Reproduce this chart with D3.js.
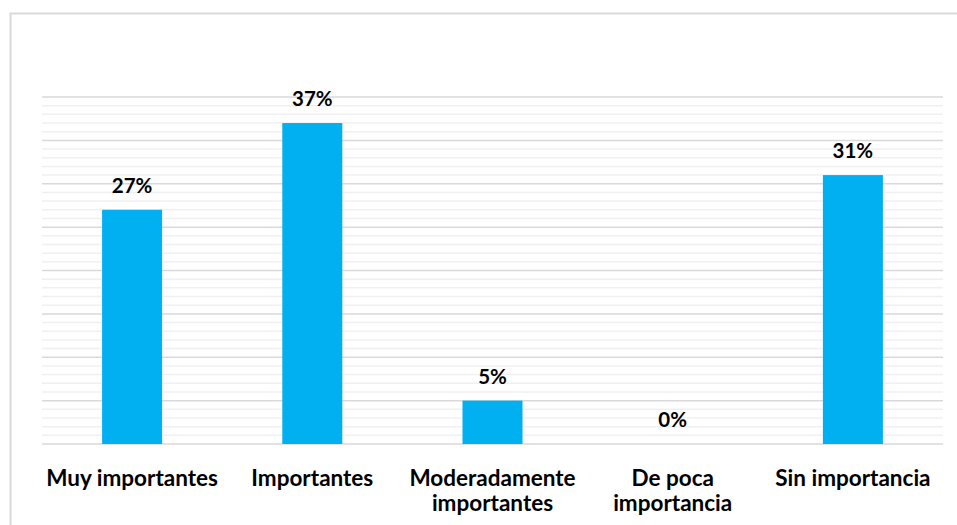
<!DOCTYPE html>
<html>
<head>
<meta charset="utf-8">
<script src="https://cdn.jsdelivr.net/npm/d3@7"></script>
<style>
  body { margin: 0; background: #fff; }
  text { font-family: Lato, "Open Sans", sans-serif; font-weight: bold; fill: #000; }
</style>
</head>
<body>
<div id="chart"></div>
<script>
// data
const categories = [
    ["Muy importantes"],
    ["Importantes"],
    ["Moderadamente", "importantes"],
    ["De poca", "importancia"],
    ["Sin importancia"]
];
const values = [27, 37, 5, 0, 31];
const yMax = 40;

const width = 957, height = 525;
const margin = { top: 97, right: 14, bottom: 81, left: 42 };
const w = width - margin.left - margin.right;
const h = height - margin.top - margin.bottom;

const svg = d3.select("#chart").append("svg")
    .attr("width", width)
    .attr("height", height);

// chart frame
svg.append("rect")
    .attr("x", 10.5).attr("y", 13.5)
    .attr("width", 960).attr("height", 520)
    .attr("fill", "none")
    .attr("stroke", "#d9d9d9")
    .attr("stroke-width", 2);

const g = svg.append("g")
    .attr("transform", "translate(" + margin.left + "," + margin.top + ")");

const x = d3.scaleBand()
    .domain(d3.range(categories.length))
    .range([0, w])
    .paddingInner(0)
    .paddingOuter(0);

const y = d3.scaleLinear()
    .domain([0, yMax])
    .range([h, 0]);

// minor gridlines every 1%
g.append("g")
    .selectAll("line")
    .data(d3.range(0, yMax + 1, 1).filter(d => d % 5 !== 0))
    .enter().append("line")
    .attr("x1", 0).attr("x2", w)
    .attr("y1", d => y(d)).attr("y2", d => y(d))
    .attr("stroke", "#f0f0f0")
    .attr("stroke-width", 1.5);

// major gridlines every 5%
g.append("g")
    .selectAll("line")
    .data(d3.range(0, yMax + 1, 5))
    .enter().append("line")
    .attr("x1", 0).attr("x2", w)
    .attr("y1", d => y(d)).attr("y2", d => y(d))
    .attr("stroke", "#d9d9d9")
    .attr("stroke-width", 1.5);

const barW = 60;

g.selectAll(".bar")
    .data(values)
    .enter().append("rect")
    .attr("class", "bar")
    .attr("x", (d, i) => x(i) + x.bandwidth() / 2 - barW / 2)
    .attr("y", d => y(d))
    .attr("width", barW)
    .attr("height", d => h - y(d))
    .attr("fill", "#00b0f0");

// value labels
g.selectAll(".val")
    .data(values)
    .enter().append("text")
    .attr("class", "val")
    .attr("x", (d, i) => x(i) + x.bandwidth() / 2)
    .attr("y", d => y(d) - 17)
    .attr("text-anchor", "middle")
    .style("font-size", "20.5px")
    .text(d => d + "%");

// category labels
const cat = g.selectAll(".cat")
    .data(categories)
    .enter().append("text")
    .attr("class", "cat")
    .attr("x", (d, i) => x(i) + x.bandwidth() / 2)
    .attr("y", h + 42)
    .attr("text-anchor", "middle")
    .style("font-size", "22.5px");

cat.selectAll("tspan")
    .data(d => d)
    .enter().append("tspan")
    .attr("x", function() { return d3.select(this.parentNode).attr("x"); })
    .attr("dy", (d, i) => i === 0 ? 0 : 25)
    .text(d => d);
</script>
</body>
</html>
